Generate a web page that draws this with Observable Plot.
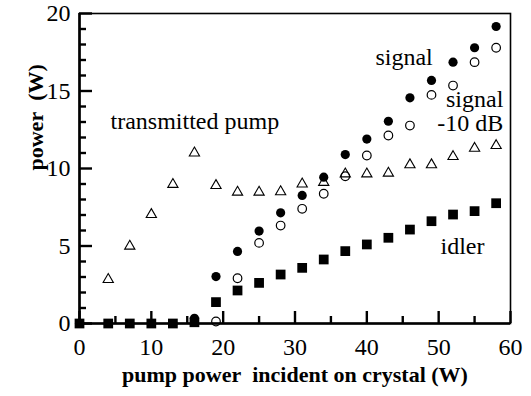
<!DOCTYPE html>
<html><head><meta charset="utf-8">
<script src="https://cdn.jsdelivr.net/npm/d3@7"></script>
<script src="https://cdn.jsdelivr.net/npm/@observablehq/plot@0.6"></script>
<style>
html,body{margin:0;padding:0;background:#fff;}
svg{display:block;}
svg, svg text{font-family:"Liberation Serif","Times New Roman","DejaVu Serif",serif !important;}
</style>
</head><body><div id="chart"></div>
<script>
// pump power incident on crystal (W)
const pumpPower = [0,4,7,10,13,16,19,22,25,28,31,34,37,40,43,46,49,52,55,58];
// output powers (W); null = no point
const idler = [0,0,0,0,0,0.08,1.38,2.13,2.62,3.16,3.59,4.13,4.67,5.1,5.53,6.06,6.6,7.03,7.25,7.76];
const signal = [0,0,0,0,0,0.34,3.03,4.65,5.96,7.14,8.26,9.44,10.9,11.9,13.05,14.56,15.68,16.86,17.79,19.16];
const signalMinus10dB = [null,null,null,null,null,null,0.13,2.92,5.2,6.32,7.4,8.37,9.5,10.84,12.13,12.77,14.75,15.35,16.86,17.79];
const transmittedPump = [null,2.84,4.99,7.03,8.97,11.0,8.9,8.47,8.47,8.5,9.0,9.1,9.65,9.65,9.7,10.24,10.24,10.77,11.3,11.48];

const xTicks = [0,10,20,30,40,50,60];
const xMinorTicks = [5,15,25,35,45,55];
const yTicks = [0,5,10,15,20];
const yMinorTicks = [1,2,3,4,6,7,8,9,11,12,13,14,16,17,18,19];

const xTitle = "pump power\u00a0 incident on crystal (W)";
const yTitle = "power\u00a0 (W)";

// in-chart labels (data coordinates)
const startLabels = ["transmitted pump", "signal", "idler"];
const startLabelX = [4.32, 41.2, 50.26];
const startLabelY = [12.52, 16.7, 4.5];
const endLabels = ["signal", "-10 dB"];
const endLabelX = [59.0, 59.0];
const endLabelY = [14.0, 12.4];

const rows = (ys) => pumpPower.map((x, i) => ({x, y: ys[i]})).filter(d => d.y != null);
const lab = (t, xs, ys) => t.map((s, i) => ({text: s, x: xs[i], y: ys[i]}));

const W = 531, H = 396, mL = 79, mR = 21, mT = 13, mB = 73;
const frameW = W - mL - mR, frameH = H - mT - mB;
const serif = "Liberation Serif, Times New Roman, DejaVu Serif, serif";

const chart = Plot.plot({
  width: W, height: H,
  marginLeft: mL, marginRight: mR, marginTop: mT, marginBottom: mB,
  x: {domain: [0, 60], label: null},
  y: {domain: [0, 20], label: null},
  style: {fontSize: "24px", background: "white", color: "black"},
  marks: [
    Plot.frame({stroke: "black", strokeWidth: 1.6}),
    Plot.ruleY([0], {stroke: "black", strokeWidth: 2.6}),
    Plot.ruleX([0], {stroke: "black", strokeWidth: 2.6}),
    Plot.tickX(xTicks, {x: d => d, stroke: "black", strokeWidth: 2.4, insetTop: frameH - 12}),
    Plot.tickX(xMinorTicks, {x: d => d, stroke: "black", strokeWidth: 2.4, insetTop: frameH - 7}),
    Plot.tickY(yTicks, {y: d => d, stroke: "black", strokeWidth: 2.4, insetRight: frameW - 13}),
    Plot.tickY(yMinorTicks, {y: d => d, stroke: "black", strokeWidth: 2.4, insetRight: frameW - 7}),
    Plot.axisX(xTicks, {tickSize: 0, tickPadding: 14, fontSize: 24, fontFamily: serif, label: null}),
    Plot.axisY(yTicks, {tickSize: 0, tickPadding: 9, fontSize: 24, fontFamily: serif, label: null}),
    Plot.dot(rows(transmittedPump), {x: "x", y: "y", symbol: "triangle", r: 3.8, stroke: "black", strokeWidth: 1.1, fill: "none"}),
    Plot.dot(rows(signalMinus10dB), {x: "x", y: "y", r: 4.3, stroke: "black", strokeWidth: 1.2, fill: "none"}),
    Plot.dot(rows(signal), {x: "x", y: "y", r: 4.6, fill: "black"}),
    Plot.dot(rows(idler), {x: "x", y: "y", symbol: "square", r: 5.5, fill: "black"}),
    Plot.text(lab(startLabels, startLabelX, startLabelY), {x: "x", y: "y", text: "text", textAnchor: "start", lineAnchor: "bottom", fontSize: 24, fontFamily: serif}),
    Plot.text(lab(endLabels, endLabelX, endLabelY), {x: "x", y: "y", text: "text", textAnchor: "end", lineAnchor: "bottom", fontSize: 24, fontFamily: serif}),
    Plot.text([xTitle], {text: d => d, frameAnchor: "bottom", dy: 58, lineAnchor: "bottom", fontSize: 22, fontWeight: "bold", fontFamily: serif}),
    Plot.text([yTitle], {text: d => d, frameAnchor: "left", rotate: -90, dx: -37, dy: 2, lineAnchor: "bottom", fontSize: 22, fontWeight: "bold", fontFamily: serif})
  ]
});
document.getElementById("chart").appendChild(chart);
</script>
</body></html>
